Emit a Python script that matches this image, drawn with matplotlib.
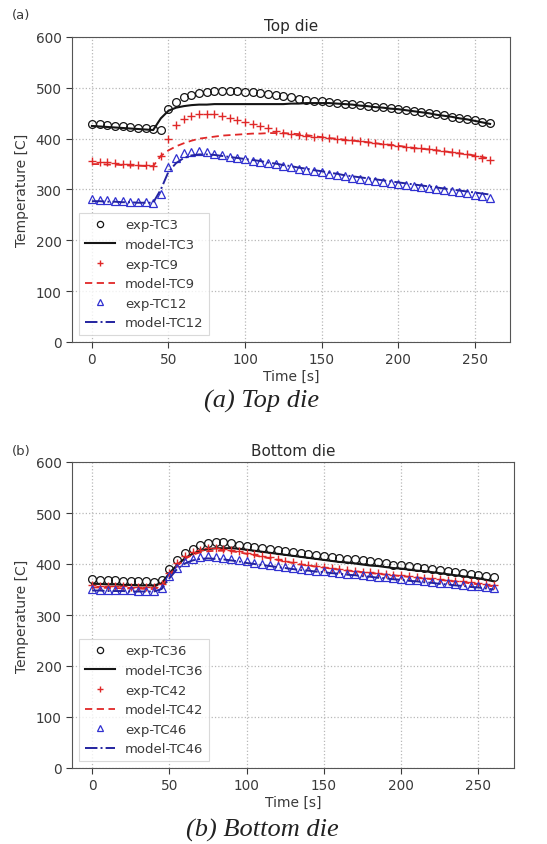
import matplotlib
matplotlib.use("Agg")
import matplotlib.pyplot as plt
import numpy as np

# ---------------- data ----------------
time_s = list(range(0, 261, 5))

# Top die
exp_tc3 = [429, 428, 427, 425, 424, 422, 421, 420, 419, 417, 458, 472, 481, 486, 490, 492, 493, 493, 493, 493,
           492, 491, 489, 487, 485, 483, 481, 479, 477, 475, 474, 472, 471, 469, 468, 466, 465, 463, 462, 460,
           459, 457, 455, 452, 450, 448, 446, 443, 441, 438, 436, 433, 430]
model_tc3 = [425, 424, 423, 422, 421, 420, 419, 418, 417, 440, 455, 461, 464, 466, 467, 467, 468, 468, 468, 468,
             468, 468, 468, 468, 468, 468, 469, 469, 470, 470, 470, 470, 469, 468, 467, 465, 464, 462, 461, 459,
             458, 456, 454, 452, 450, 447, 445, 443, 440, 438, 435, 432, 429]
exp_tc9 = [356, 355, 354, 352, 351, 350, 349, 348, 347, 366, 400, 426, 439, 445, 448, 449, 448, 445, 441, 437,
           433, 428, 424, 420, 416, 412, 409, 407, 406, 404, 403, 401, 400, 398, 397, 395, 393, 391, 390, 388,
           386, 384, 382, 381, 379, 377, 375, 373, 371, 369, 366, 362, 358]
model_tc9 = [350, 350, 349, 349, 348, 347, 347, 346, 346, 366, 377, 385, 391, 396, 400, 402, 404, 406, 407, 408,
             409, 410, 410, 411, 411, 411, 410, 409, 407, 405, 403, 401, 400, 398, 396, 395, 393, 391, 389, 388,
             386, 384, 382, 380, 379, 377, 375, 373, 371, 369, 367, 364, 361]
exp_tc12 = [281, 280, 279, 278, 277, 276, 275, 275, 274, 291, 345, 362, 371, 374, 375, 373, 370, 367, 364, 362,
            360, 357, 355, 352, 350, 347, 344, 341, 339, 336, 334, 331, 328, 326, 323, 321, 319, 317, 315, 313,
            311, 309, 307, 305, 303, 301, 299, 297, 295, 293, 290, 287, 284]
model_tc12 = [277, 277, 276, 276, 275, 275, 274, 274, 274, 300, 335, 352, 362, 367, 369, 369, 368, 366, 364, 362,
              360, 358, 356, 353, 351, 348, 346, 343, 341, 338, 336, 333, 331, 328, 326, 324, 322, 320, 318, 316,
              314, 312, 310, 308, 306, 304, 302, 300, 298, 296, 294, 292, 290]

# Bottom die
exp_tc36 = [370, 369, 369, 368, 367, 367, 366, 366, 365, 368, 390, 408, 421, 430, 437, 441, 443, 443, 441, 438,
            435, 433, 431, 429, 427, 425, 423, 421, 419, 417, 415, 413, 412, 410, 409, 407, 405, 403, 401, 399,
            398, 396, 394, 392, 391, 389, 387, 385, 383, 381, 379, 377, 374]
model_tc36 = [361, 361, 360, 360, 359, 359, 358, 358, 358, 362, 382, 398, 411, 420, 426, 429, 431, 431, 431, 430,
              428, 426, 424, 422, 420, 418, 416, 414, 412, 410, 408, 406, 404, 403, 401, 399, 397, 396, 394, 392,
              391, 389, 387, 386, 384, 382, 380, 378, 376, 374, 372, 369, 366]
exp_tc42 = [358, 357, 357, 356, 356, 355, 355, 355, 354, 360, 383, 402, 415, 423, 428, 431, 431, 430, 428, 425,
            422, 419, 416, 413, 410, 406, 403, 400, 398, 396, 394, 392, 390, 388, 387, 385, 384, 382, 381, 379,
            378, 376, 375, 373, 372, 370, 369, 367, 366, 364, 362, 360, 358]
model_tc42 = [354, 354, 353, 353, 352, 352, 352, 351, 351, 356, 378, 397, 410, 418, 423, 425, 426, 426, 425, 423,
              420, 417, 414, 411, 408, 405, 402, 399, 397, 395, 393, 391, 389, 387, 386, 384, 382, 381, 379, 378,
              376, 375, 373, 372, 370, 369, 367, 366, 364, 362, 360, 358, 356]
exp_tc46 = [351, 350, 350, 349, 349, 349, 348, 348, 348, 353, 376, 393, 404, 410, 413, 415, 414, 412, 410, 407,
            405, 402, 400, 398, 396, 394, 392, 390, 389, 387, 386, 384, 383, 381, 380, 378, 377, 375, 374, 372,
            371, 369, 368, 366, 365, 363, 362, 360, 359, 357, 356, 354, 352]
model_tc46 = [348, 348, 347, 347, 347, 346, 346, 346, 346, 351, 372, 390, 401, 407, 410, 411, 410, 409, 407, 405,
              402, 400, 398, 396, 394, 392, 390, 388, 387, 385, 384, 382, 381, 379, 378, 376, 375, 373, 372, 370,
              369, 367, 366, 364, 363, 361, 360, 358, 357, 355, 354, 352, 350]

top_labels = ["exp-TC3", "model-TC3", "exp-TC9", "model-TC9", "exp-TC12", "model-TC12"]
bot_labels = ["exp-TC36", "model-TC36", "exp-TC42", "model-TC42", "exp-TC46", "model-TC46"]
y_ticks = [0, 100, 200, 300, 400, 500, 600]
x_ticks = [0, 50, 100, 150, 200, 250]

# ---------------- figure ----------------
W, H = 547, 845
fig = plt.figure(figsize=(W / 100, H / 100), dpi=100)
fig.patch.set_facecolor("white")

def ax_rect(l, r, t, b):
    return [l / W, 1 - b / H, (r - l) / W, (b - t) / H]

ax1 = fig.add_axes(ax_rect(72, 510, 38, 343))
ax2 = fig.add_axes(ax_rect(72, 514, 463, 769))

BLUE = "#3030d0"
RED = "#e02828"
BLACK = "#151515"
TXT = "#3a3a3a"

def draw(ax, series, labels, title):
    e1, m1, e2, m2, e3, m3 = series
    ax.plot(time_s, e1, linestyle="none", marker="o", ms=5.6, mfc="none", mec=BLACK, mew=0.9, label=labels[0])
    ax.plot(time_s, m1, color=BLACK, lw=1.5, label=labels[1])
    ax.plot(time_s, e2, linestyle="none", marker="+", ms=5.5, color=RED, mew=1.0, label=labels[2])
    ax.plot(time_s, m2, color=RED, lw=1.3, linestyle=(0, (4, 2.5)), label=labels[3])
    ax.plot(time_s, e3, linestyle="none", marker="^", ms=5.5, mfc="none", mec=BLUE, mew=0.9, label=labels[4])
    ax.plot(time_s, m3, color="#2424a0", lw=1.4, linestyle="-.", label=labels[5])
    ax.set_ylim(0, 600)
    ax.set_yticks(y_ticks)
    ax.set_xticks(x_ticks)
    ax.grid(True, linestyle=":", color="#b8b8b8", lw=0.9)
    ax.tick_params(labelsize=9.8, colors=TXT, length=4)
    for s in ax.spines.values():
        s.set_color("#555555")
    ax.set_xlabel("Time [s]", fontsize=10, color=TXT, labelpad=2)
    ax.set_ylabel("Temperature [C]", fontsize=10, color=TXT, labelpad=5)
    ax.set_title(title, fontsize=11, color="#2a2a2a", pad=5)
    leg = ax.legend(loc="lower left", fontsize=9.5, labelspacing=0.5, handlelength=2.3,
                    handletextpad=0.75, markerscale=0.8,
                    frameon=True, fancybox=False, borderpad=0.45, borderaxespad=0.5)
    leg.get_frame().set_edgecolor("#d0d0d0")
    leg.get_frame().set_linewidth(0.8)
    for t in leg.get_texts():
        t.set_color(TXT)

draw(ax1, [exp_tc3, model_tc3, exp_tc9, model_tc9, exp_tc12, model_tc12], top_labels, "Top die")
draw(ax2, [exp_tc36, model_tc36, exp_tc42, model_tc42, exp_tc46, model_tc46], bot_labels, "Bottom die")

fig.text(12 / W, 1 - 15 / H, "(a)", fontsize=9.5, color=TXT, va="center")
fig.text(12 / W, 1 - 452 / H, "(b)", fontsize=9.5, color=TXT, va="center")

fig.text(262 / W, 1 - 401 / H, "(a) Top die", fontsize=19, family="Liberation Serif",
         style="italic", ha="center", va="center", color="#222222")
fig.text(262 / W, 1 - 830 / H, "(b) Bottom die", fontsize=19, family="Liberation Serif",
         style="italic", ha="center", va="center", color="#222222")

fig.savefig("out.png", dpi=100)
